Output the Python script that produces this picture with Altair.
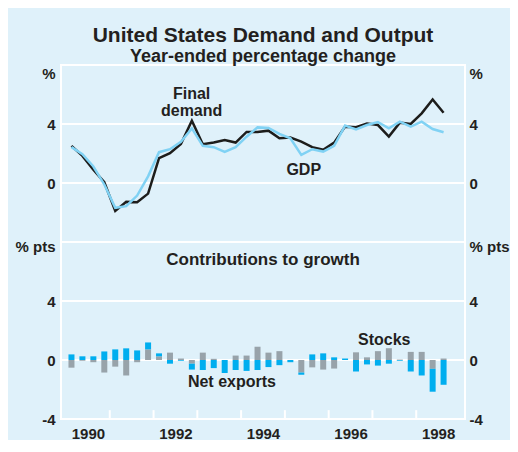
import altair as alt
import pandas as pd

# ---------------- data ----------------
quarters = [f"{y}Q{q}" for y in range(1990, 1999) for q in (1, 2, 3, 4)][:35]

final_demand = [2.52, 1.84, 0.90, 0.05, -1.90, -1.28, -1.30, -0.72, 1.68, 2.02,
                2.65, 4.22, 2.63, 2.74, 2.92, 2.74, 3.46, 3.46, 3.55, 3.03,
                3.08, 2.81, 2.43, 2.25, 2.74, 3.82, 3.78, 4.04, 3.93, 3.15,
                4.09, 4.00, 4.72, 5.66, 4.76]
gdp = [2.43, 1.96, 1.12, -0.10, -1.68, -1.57, -0.85, 0.45, 2.09, 2.29,
       2.80, 3.70, 2.52, 2.43, 2.11, 2.43, 3.14, 3.77, 3.73, 3.33,
       3.03, 1.91, 2.29, 2.13, 2.52, 3.89, 3.64, 3.93, 4.13, 3.71,
       4.16, 3.82, 4.16, 3.66, 3.44]
net_exports = [0.38, 0.25, 0.25, 0.58, 0.72, 0.79, 0.65, 0.47, 0.20, -0.25,
               -0.05, -0.40, -0.68, -0.55, -0.88, -0.68, -0.74, -0.68, -0.48, -0.35,
               -0.15, -0.15, 0.38, 0.45, 0.18, 0.10, -0.78, -0.30, -0.38, -0.25,
               -0.05, -0.78, -1.05, -1.55, -1.68]
stocks = [-0.52, -0.05, -0.15, -0.85, -0.45, -1.05, -0.15, 0.72, 0.25, 0.50,
          0.10, -0.25, 0.50, 0.08, 0.00, 0.30, 0.30, 0.90, 0.50, 0.60,
          0.00, -0.85, -0.50, -0.65, -0.58, 0.00, 0.52, 0.18, 0.60, 0.80,
          0.03, 0.55, 0.55, -0.60, 0.10]

label_years = [1990, 1992, 1994, 1996, 1998]
tick_years = [1991, 1992, 1993, 1994, 1995, 1996, 1997, 1998]
grid_top = [0, 4]
grid_bottom = [0, 4, 8]
BOTTOM_SHIFT = -12          # bottom panel drawn 12 units below the top one

ann_labels = ["GDP", "Net exports", "Stocks", "Contributions to growth"]
ann_x = [1995.43, 1993.79, 1997.27, 1994.5]
ann_y = [0.53, -1.82 + BOTTOM_SHIFT, 1.01 + BOTTOM_SHIFT, 6.46 + BOTTOM_SHIFT]
ann_size = [16, 16, 16, 17]

# ---------------- styling ----------------
FONT = "Liberation Sans"
INK = "#231f20"
BG = "#dff1fa"
BLUE_BAR = "#00aeef"
GREY_BAR = "#98a3aa"
GDP_COL = "#80d2f4"
FD_COL = "#1d1d1b"

pos = [int(q[:4]) + (int(q[-1]) - 0.5) / 4 for q in quarters]

lines_fd = pd.DataFrame({"pos": pos, "value": final_demand})
lines_gdp = pd.DataFrame({"pos": pos, "value": gdp})
bars_df = pd.DataFrame({
    "pos": pos * 2,
    "series": ["Stocks"] * len(pos) + ["Net exports"] * len(pos),
    "ord": [0] * len(pos) + [1] * len(pos),
    "value": stocks + net_exports,
})
grid_df = pd.DataFrame({"v": grid_top + [g + BOTTOM_SHIFT for g in grid_bottom]})
ticks_df = pd.DataFrame({"t": tick_years, "b": [-16] * len(tick_years),
                         "e": [-15.4] * len(tick_years)})
ann_df = pd.DataFrame({"label": ann_labels, "x": ann_x, "y": ann_y, "fs": ann_size})
fd_lab = pd.DataFrame({"label": ["Final\ndemand"], "x": [1992.87], "y": [5.71]})

xscale = alt.Scale(domain=[1990, 1999], nice=False, zero=False)
yscale = alt.Scale(domain=[-16, 8], nice=False, zero=False)

y_values = [7.45, 4, 0, -4.32, -8, -12, -16]
y_expr = ("datum.value > 6 ? '%' : datum.value == 4 ? '4' : datum.value == 0 ? '0' : "
          "datum.value > -6 ? '% pts' : datum.value == -8 ? '4' : datum.value == -12 ? '0' : '-4'")

def yaxis(orient, pad):
    return alt.Axis(orient=orient, values=y_values, labelExpr=y_expr, grid=False,
                    ticks=False, tickSize=0, domain=False, title=None,
                    labelFont=FONT, labelFontSize=15, labelFontWeight="bold",
                    labelColor=INK, labelPadding=pad, labelFlush=False,
                    labelOverlap=False, labelBaseline="middle")

xaxis = alt.Axis(orient="bottom", values=[y + 0.5 for y in label_years],
                 labelExpr="'' + floor(datum.value)",
                 ticks=False, tickSize=0, domain=False, grid=False, title=None,
                 labelFont=FONT, labelFontSize=15, labelFontWeight="bold",
                 labelColor=INK, labelPadding=7, labelFlush=False, labelOverlap=False)

grid = alt.Chart(grid_df).mark_rule(color="white", strokeWidth=2).encode(
    y=alt.Y("v:Q", scale=yscale, axis=yaxis("left", 6))
)

ticks = alt.Chart(ticks_df).mark_rule(color="white", strokeWidth=2).encode(
    x=alt.X("t:Q", scale=xscale, axis=None),
    y=alt.Y("b:Q", scale=yscale, axis=None),
    y2="e:Q",
)

bars = alt.Chart(bars_df).transform_stack(
    stack="value", groupby=["pos"], as_=["v0", "v1"],
    sort=[alt.SortField(field="ord", order="ascending")], offset="zero"
).transform_calculate(
    y0=f"datum.v0 + ({BOTTOM_SHIFT})", y1=f"datum.v1 + ({BOTTOM_SHIFT})"
).mark_bar(size=6).encode(
    x=alt.X("pos:Q", scale=xscale, axis=xaxis),
    y=alt.Y("y0:Q", scale=yscale, axis=yaxis("right", 4)),
    y2="y1:Q",
    color=alt.Color("series:N", scale=alt.Scale(domain=["Stocks", "Net exports"],
                                                range=[GREY_BAR, BLUE_BAR]), legend=None),
)

fd_line = alt.Chart(lines_fd).mark_line(color=FD_COL, strokeWidth=2.5).encode(
    x=alt.X("pos:Q", scale=xscale, axis=None),
    y=alt.Y("value:Q", scale=yscale, axis=None),
)
gdp_line = alt.Chart(lines_gdp).mark_line(color=GDP_COL, strokeWidth=2.5).encode(
    x=alt.X("pos:Q", scale=xscale, axis=None),
    y=alt.Y("value:Q", scale=yscale, axis=None),
)

texts = alt.Chart(ann_df).mark_text(font=FONT, fontWeight="bold", color=INK,
                                    align="center", baseline="alphabetic").encode(
    x=alt.X("x:Q", scale=xscale, axis=None),
    y=alt.Y("y:Q", scale=yscale, axis=None),
    text="label:N",
    size=alt.Size("fs:Q", scale=None, legend=None),
)
fd_text = alt.Chart(fd_lab).mark_text(font=FONT, fontWeight="bold", color=INK, fontSize=16,
                                      align="center", baseline="alphabetic",
                                      lineBreak="\n", lineHeight=17).encode(
    x=alt.X("x:Q", scale=xscale, axis=None),
    y=alt.Y("y:Q", scale=yscale, axis=None),
    text="label:N",
)

chart = alt.layer(grid, ticks, bars, fd_line, gdp_line, texts, fd_text).resolve_axis(
    x="independent", y="independent"
).properties(
    width=404, height=354,
    autosize=alt.AutoSizeParams(type="none"),
    padding={"left": 53, "right": 45, "top": 57, "bottom": 21},
    background=BG,
    title=alt.TitleParams(
        text="United States Demand and Output",
        subtitle="Year-ended percentage change",
        font=FONT, fontSize=21, fontWeight="bold", color=INK,
        subtitleFont=FONT, subtitleFontSize=18, subtitleFontWeight="bold",
        subtitleColor=INK, anchor="middle", offset=-1, subtitlePadding=2,
    ),
).configure_view(stroke="white", strokeWidth=2)

chart.save("out.html", embed_options={"renderer": "svg", "actions": False})
